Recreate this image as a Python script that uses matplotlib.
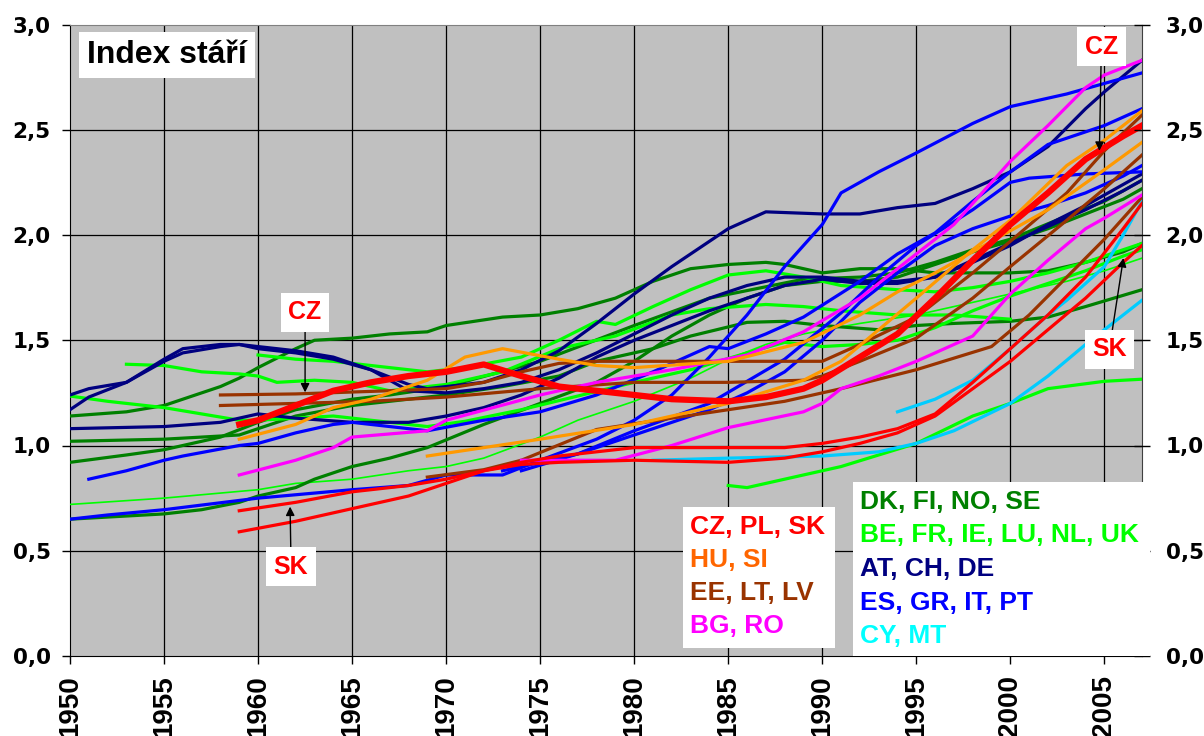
import matplotlib
matplotlib.use("Agg")
import matplotlib.pyplot as plt
from matplotlib.patches import Rectangle

plt.rcParams['font.family'] = ['Liberation Sans', 'DejaVu Sans']
plt.rcParams['font.weight'] = 'bold'

# ---------------- data ----------------
# red: CZ, PL, SK
cz_years = [1959,1960,1962,1964,1966,1968,1970,1972,1974,1976,1978,1980,1982,1985,1987,1989,1990,1992,1994,1996,1998,2000,2002,2004,2006,2007]
cz_vals  = [1.10,1.12,1.19,1.26,1.30,1.33,1.35,1.385,1.33,1.28,1.26,1.24,1.22,1.21,1.23,1.27,1.31,1.42,1.53,1.70,1.88,2.05,2.20,2.36,2.47,2.52]
pl_years = [1959,1962,1965,1968,1970,1972,1974,1976,1980,1985,1988,1990,1992,1994,1996,1998,2000,2002,2004,2006,2007]
pl_vals  = [0.59,0.64,0.70,0.76,0.82,0.88,0.92,0.95,0.99,0.99,0.99,1.01,1.04,1.08,1.15,1.30,1.46,1.62,1.80,2.03,2.15]
sk_years = [1959,1962,1965,1968,1970,1972,1974,1976,1980,1985,1988,1990,1992,1994,1996,1998,2000,2002,2004,2006,2007]
sk_vals  = [0.69,0.73,0.78,0.81,0.84,0.88,0.91,0.92,0.93,0.92,0.94,0.97,1.01,1.06,1.14,1.27,1.40,1.55,1.70,1.87,1.95]
# orange: HU, SI
hu_years = [1959,1962,1964,1966,1968,1969,1971,1973,1976,1978,1980,1985,1989,1992,1994,1996,1998,2000,2002,2005,2007]
hu_vals  = [1.03,1.10,1.18,1.22,1.28,1.31,1.42,1.46,1.41,1.38,1.37,1.40,1.49,1.62,1.73,1.82,1.92,2.02,2.12,2.31,2.44]
si_years = [1969,1975,1980,1985,1989,1991,1993,1995,1998,2000,2003,2005,2007]
si_vals  = [0.95,1.03,1.10,1.20,1.31,1.40,1.55,1.70,1.93,2.07,2.33,2.45,2.59]
# brown: EE, LT, LV
ee_years = [1958,1962,1966,1970,1972,1974,1976,1978,1985,1990,1992,1995,1998,2000,2003,2005,2007]
ee_vals  = [1.24,1.245,1.257,1.27,1.30,1.35,1.39,1.40,1.40,1.40,1.48,1.61,1.82,1.97,2.20,2.40,2.57]
lv_years = [1958,1962,1966,1970,1975,1980,1985,1989,1990,1992,1995,1998,2000,2003,2005,2007]
lv_vals  = [1.19,1.20,1.21,1.23,1.27,1.30,1.30,1.31,1.33,1.40,1.51,1.70,1.85,2.07,2.22,2.38]
lt_years = [1969,1972,1974,1978,1982,1985,1988,1991,1995,1999,2001,2003,2005,2007]
lt_vals  = [0.85,0.885,0.93,1.076,1.13,1.17,1.21,1.27,1.36,1.47,1.62,1.80,1.98,2.18]
# magenta: BG, RO
bg_years = [1959,1962,1964,1965,1969,1970,1975,1978,1982,1986,1989,1992,1994,1997,1999,2000,2002,2004,2005,2007]
bg_vals  = [0.86,0.93,0.99,1.04,1.07,1.12,1.24,1.30,1.36,1.43,1.54,1.70,1.84,2.05,2.25,2.35,2.52,2.70,2.76,2.83]
ro_years = [1974,1979,1982,1985,1989,1990,1991,1993,1995,1998,2000,2002,2004,2005,2007]
ro_vals  = [0.93,0.93,1.00,1.085,1.16,1.20,1.27,1.33,1.40,1.52,1.72,1.88,2.03,2.08,2.19]
# dark green: DK, FI, NO, SE
dk_years = [1950,1953,1955,1956,1958,1959,1960,1962,1963,1965,1967,1969,1970,1973,1975,1977,1979,1981,1983,1985,1987,1988,1990,1992,1994,1996,2000,2002,2004,2006,2007]
dk_vals  = [1.14,1.16,1.19,1.22,1.28,1.32,1.37,1.46,1.50,1.51,1.53,1.54,1.57,1.61,1.62,1.65,1.70,1.78,1.84,1.86,1.87,1.86,1.82,1.84,1.84,1.82,1.82,1.83,1.87,1.92,1.96]
fi_years = [1950,1955,1959,1960,1962,1965,1968,1970,1973,1976,1978,1981,1983,1986,1988,1990,1993,1995,1997,2000,2002,2004,2007]
fi_vals  = [1.02,1.03,1.05,1.08,1.14,1.19,1.22,1.24,1.28,1.33,1.40,1.46,1.52,1.585,1.59,1.57,1.55,1.57,1.58,1.59,1.61,1.66,1.74]
no_years = [1950,1953,1955,1956,1958,1960,1962,1965,1967,1970,1975,1980,1984,1989,1992,1994,1996,1998,2000,2003,2005,2007]
no_vals  = [0.92,0.955,0.98,1.00,1.04,1.11,1.17,1.22,1.24,1.28,1.40,1.57,1.70,1.79,1.80,1.82,1.87,1.93,1.98,2.09,2.16,2.26]
se_years = [1950,1955,1957,1959,1960,1962,1963,1965,1967,1969,1972,1975,1978,1980,1982,1984,1986,1988,1990,1992,1994,1996,1998,2000,2002,2004,2006,2007]
se_vals  = [0.65,0.675,0.695,0.73,0.76,0.80,0.84,0.90,0.94,0.99,1.10,1.20,1.30,1.40,1.52,1.62,1.70,1.76,1.78,1.78,1.80,1.86,1.92,1.97,2.03,2.10,2.17,2.22]
# bright green: BE, FR, IE, LU, NL, UK
be_years = [1960,1962,1964,1967,1969,1971,1974,1976,1978,1979,1981,1983,1985,1987,1989,1991,1994,1996,1998,2000,2002,2004,2007]
be_vals  = [1.43,1.41,1.40,1.37,1.35,1.37,1.42,1.50,1.59,1.575,1.66,1.74,1.81,1.83,1.80,1.76,1.74,1.73,1.75,1.78,1.82,1.87,1.96]
fr_years = [1950,1952,1955,1957,1959,1960,1962,1964,1966,1969,1971,1974,1977,1980,1983,1986,1988,1990,1992,1994,1996,1998,2000,2002,2004,2006,2007]
fr_vals  = [1.235,1.21,1.18,1.15,1.12,1.12,1.13,1.14,1.12,1.09,1.115,1.17,1.235,1.30,1.36,1.44,1.49,1.47,1.48,1.50,1.56,1.64,1.71,1.77,1.83,1.90,1.93]
lu_years = [1953,1955,1957,1959,1960,1961,1963,1965,1967,1970,1973,1976,1979,1982,1984,1987,1989,1991,1994,1997,2000]
lu_vals  = [1.386,1.38,1.35,1.34,1.33,1.30,1.31,1.30,1.26,1.29,1.35,1.46,1.52,1.62,1.65,1.67,1.66,1.64,1.62,1.62,1.60]
ie_years = [1985,1986,1988,1991,1995,1998,2000,2002,2005,2007]
ie_vals  = [0.81,0.80,0.84,0.90,1.01,1.14,1.20,1.27,1.305,1.315]
uk_years = [1950,1955,1960,1962,1965,1968,1970,1972,1975,1977,1980,1983,1985,1987,1989,1992,1995,1998,2000,2003,2005,2007]
uk_vals  = [0.72,0.75,0.79,0.82,0.84,0.88,0.90,0.94,1.04,1.12,1.21,1.32,1.41,1.48,1.53,1.58,1.62,1.68,1.72,1.78,1.83,1.89]
# navy: AT, CH, DE
de_years = [1950,1951,1953,1955,1956,1958,1959,1960,1962,1964,1966,1968,1969,1970,1972,1974,1976,1978,1980,1982,1984,1985,1986,1987,1990,1992,1994,1996,1998,2000,2002,2004,2005,2007]
de_vals  = [1.24,1.27,1.30,1.41,1.46,1.48,1.48,1.46,1.44,1.41,1.36,1.29,1.27,1.28,1.30,1.36,1.45,1.58,1.72,1.85,1.97,2.03,2.07,2.11,2.10,2.10,2.13,2.15,2.22,2.30,2.42,2.60,2.68,2.83]
at_years = [1950,1951,1953,1955,1956,1958,1959,1960,1962,1964,1966,1967,1968,1970,1972,1974,1976,1978,1980,1982,1984,1986,1988,1990,1992,1994,1996,1998,2000,2002,2004,2006,2007]
at_vals  = [1.17,1.23,1.30,1.40,1.44,1.47,1.48,1.47,1.45,1.42,1.36,1.31,1.26,1.25,1.27,1.30,1.36,1.44,1.53,1.62,1.70,1.76,1.80,1.80,1.78,1.78,1.80,1.87,1.95,2.05,2.14,2.24,2.29]
ch_years = [1950,1955,1958,1960,1962,1965,1968,1970,1972,1974,1976,1978,1980,1982,1984,1986,1988,1990,1992,1994,1996,1998,2000,2002,2004,2006,2007]
ch_vals  = [1.08,1.09,1.11,1.15,1.13,1.11,1.11,1.14,1.18,1.24,1.32,1.42,1.50,1.57,1.64,1.70,1.76,1.79,1.77,1.77,1.80,1.88,1.96,2.04,2.12,2.21,2.26]
# blue: ES, GR, IT, PT
it_years = [1950,1952,1955,1960,1965,1968,1970,1973,1975,1978,1980,1982,1984,1986,1988,1990,1991,1993,1995,1998,2000,2003,2005,2007]
it_vals  = [0.65,0.67,0.695,0.75,0.79,0.81,0.86,0.86,0.93,1.03,1.12,1.24,1.42,1.62,1.85,2.05,2.20,2.30,2.39,2.53,2.61,2.67,2.72,2.77]
es_years = [1951,1953,1955,1956,1959,1960,1962,1964,1965,1967,1969,1972,1975,1978,1981,1984,1985,1987,1989,1992,1994,1996,1998,2000,2002,2005,2007]
es_vals  = [0.84,0.88,0.93,0.95,1.00,1.01,1.06,1.10,1.11,1.09,1.07,1.12,1.16,1.24,1.35,1.47,1.46,1.53,1.61,1.78,1.91,2.01,2.16,2.30,2.43,2.52,2.60]
gr_years = [1973,1977,1980,1984,1988,1991,1993,1995,1998,2000,2001,2004,2007]
gr_vals  = [0.88,0.96,1.07,1.20,1.41,1.63,1.80,1.95,2.12,2.25,2.27,2.29,2.30]
pt_years = [1974,1977,1980,1984,1986,1988,1990,1992,1994,1996,1998,2000,2002,2004,2006,2007]
pt_vals  = [0.88,0.96,1.05,1.17,1.25,1.35,1.50,1.68,1.82,1.95,2.03,2.09,2.14,2.20,2.28,2.33]
# cyan: CY, MT
cy_years = [1981,1985,1990,1993,1995,1997,2000,2002,2004,2006,2007]
cy_vals  = [0.93,0.94,0.95,0.97,1.01,1.07,1.20,1.33,1.48,1.62,1.69]
mt_years = [1994,1996,1998,2000,2002,2003,2005,2006,2007]
mt_vals  = [1.16,1.22,1.31,1.46,1.62,1.69,1.85,2.00,2.16]

legend_left = [("CZ, PL, SK", "#FF0000"), ("HU, SI", "#FF6600"),
               ("EE, LT, LV", "#993300"), ("BG, RO", "#FF00FF")]
legend_right = [("DK, FI, NO, SE", "#008000"), ("BE, FR, IE, LU, NL, UK", "#00FF00"),
                ("AT, CH, DE", "#000080"), ("ES, GR, IT, PT", "#0000FF"),
                ("CY, MT", "#00FFFF")]
x_ticks = list(range(1950, 2006, 5))
y_ticks = [0.0, 0.5, 1.0, 1.5, 2.0, 2.5, 3.0]

# ---------------- figure ----------------
W, H = 1204, 736
fig = plt.figure(figsize=(W/100, H/100), dpi=100)
L, R, T, B = 70, 1142, 24.5, 656
ax = fig.add_axes([L/W, 1-B/H, (R-L)/W, (B-T)/H])
ax.set_facecolor('#C0C0C0')
ax.set_xlim(1950, 2007)
ax.set_ylim(0, 3)

for xv in x_ticks[1:]:
    ax.axvline(xv, color='black', lw=0.9, zorder=1)
for yv in y_ticks[1:-1]:
    ax.axhline(yv, color='black', lw=0.9, zorder=1)

LW = 2.3
red, orange, brown, mag = '#FF0000', '#FF9900', '#993300', '#FF00FF'
dgreen, lgreen, navy, blue, cyan = '#008000', '#00FF00', '#000080', '#0000FF', '#00CCFF'

series = [
    (uk_years, uk_vals, lgreen, 1.2),
    (se_years, se_vals, dgreen, LW), (no_years, no_vals, dgreen, LW),
    (fi_years, fi_vals, dgreen, LW), (dk_years, dk_vals, dgreen, LW),
    (be_years, be_vals, lgreen, LW), (fr_years, fr_vals, lgreen, LW),
    (lu_years, lu_vals, lgreen, LW), (ie_years, ie_vals, lgreen, LW),
    (at_years, at_vals, navy, LW), (ch_years, ch_vals, navy, LW), (de_years, de_vals, navy, LW),
    (it_years, it_vals, blue, LW), (es_years, es_vals, blue, LW),
    (gr_years, gr_vals, blue, LW), (pt_years, pt_vals, blue, LW),
    (cy_years, cy_vals, cyan, LW), (mt_years, mt_vals, cyan, LW),
    (ee_years, ee_vals, brown, LW), (lv_years, lv_vals, brown, LW), (lt_years, lt_vals, brown, LW),
    (bg_years, bg_vals, mag, LW), (ro_years, ro_vals, mag, LW),
    (hu_years, hu_vals, orange, LW), (si_years, si_vals, orange, LW),
    (pl_years, pl_vals, red, LW), (sk_years, sk_vals, red, LW),
    (cz_years, cz_vals, red, 4.5),
]
for i, (xs, ys, c, w) in enumerate(series):
    ax.plot(xs, ys, color=c, lw=w, solid_joinstyle='round', zorder=3+i*0.01)

ax.set_xticks(x_ticks)
ax.set_xticklabels([str(v) for v in x_ticks], rotation=90, fontsize=20, fontweight='bold', va='top')
ax.set_yticks(y_ticks)
ax.set_yticklabels([f"{v:.1f}".replace('.', ',') for v in y_ticks], fontsize=15.5,
                   fontweight='bold', family=['DejaVu Sans'])
ax.tick_params(axis='x', length=6, width=1, direction='out', pad=8)
ax.tick_params(axis='y', length=6, width=1, direction='out', pad=8)
for s in ['left', 'bottom']:
    ax.spines[s].set_color('black')
ax.spines['top'].set_color('#808080')
ax.spines['right'].set_color('#404040')

ax2 = ax.twinx()
ax2.set_ylim(0, 3)
ax2.set_yticks(y_ticks)
ax2.set_yticklabels([f"{v:.1f}".replace('.', ',') for v in y_ticks], fontsize=15.5,
                    fontweight='bold', family=['DejaVu Sans'])
ax2.tick_params(axis='y', length=12, width=1, direction='inout', pad=11)
for s in ax2.spines.values():
    s.set_visible(False)

def px(x, y):
    return x / W, 1 - y / H

def data(x, y):
    return 1950 + (x - L) / 18.8, (B - y) / 210.0

# title box
fig.text(*px(167, 55), "Index stáří", fontsize=23, fontweight='bold', ha='center', va='center',
         bbox=dict(boxstyle='square,pad=0.25', fc='white', ec='none'), zorder=10)

# annotations
arrow = dict(arrowstyle='-|>', color='black', lw=1.0, mutation_scale=13, shrinkA=0, shrinkB=0)
for lab, tx, ty, axx, ayy in [("CZ", 305, 313, 305, 393), ("SK", 291, 567, 290, 507),
                               ("CZ", 1101, 48, 1099, 152), ("SK", 1109, 350, 1123, 259)]:
    ax.annotate(lab, xy=data(axx, ayy), xytext=data(tx, ty), textcoords='data',
                fontsize=18, fontweight='bold', color='red', ha='center', va='center',
                bbox=dict(boxstyle='square,pad=0.3', fc='white', ec='none'),
                arrowprops=arrow, zorder=10, annotation_clip=False)

# legend boxes
fig.patches.append(Rectangle(px(683, 648), (835-683)/W, (648-507)/H, transform=fig.transFigure,
                             facecolor='white', edgecolor='none', zorder=9))
for i, (t, c) in enumerate(legend_left):
    fig.text(*px(690, 527 + i*33), t, color=c, fontsize=19, fontweight='bold', ha='left', va='center', zorder=11)
fig.patches.append(Rectangle(px(853, 656), (1150-853)/W, (656-482)/H, transform=fig.transFigure,
                             facecolor='white', edgecolor='none', zorder=9))
for i, (t, c) in enumerate(legend_right):
    fig.text(*px(860, 502 + i*33.5), t, color=c, fontsize=19, fontweight='bold', ha='left', va='center', zorder=11)

fig.savefig('out.png', dpi=100)
